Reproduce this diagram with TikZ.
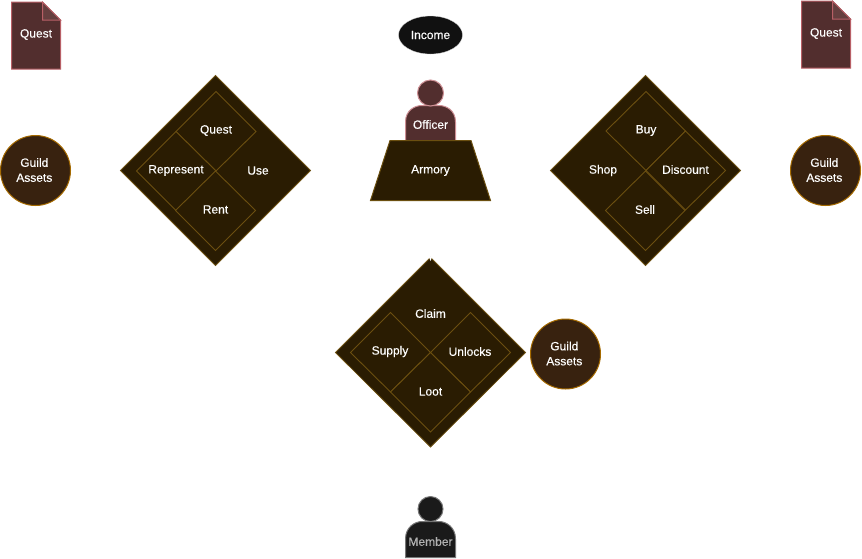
\documentclass[tikz,border=0pt]{standalone}
\usepackage{fontspec}
\setmainfont[FakeBold=0.25]{Liberation Sans}
\usetikzlibrary{shapes.geometric}
\definecolor{dkfill}{HTML}{2A1C02}
\definecolor{dkline}{HTML}{6B4F10}
\definecolor{brfill}{HTML}{38220F}
\definecolor{brline}{HTML}{A56A00}
\definecolor{docfill}{HTML}{522E2E}
\definecolor{docline}{HTML}{B85F66}
\definecolor{docfold}{HTML}{663F3F}
\definecolor{blk}{HTML}{111111}
\definecolor{memfill}{HTML}{1A1A1A}
\definecolor{memline}{HTML}{777777}
\tikzset{
  x=1pt,y=-1pt,
  every node/.style={font=\fontsize{12}{15}\selectfont,text=white,align=center,inner sep=0pt,outer sep=0pt},
  tx/.style={yshift=-0.5pt},
  bigd/.style={draw=dkline,fill=dkfill,line width=0.8pt},
  smalld/.style={draw=dkline,fill=dkfill,line width=0.9pt},
  guild/.style={circle,draw=brline,fill=brfill,line width=1pt,minimum size=70pt},
  docshape/.style={draw=docline,fill=docfill,line width=1pt},
  foldshape/.style={draw=docline,fill=docfold,line width=1pt},
}
\begin{document}
\begin{tikzpicture}
\useasboundingbox (0,0) rectangle (862,558);
% left diamond
\draw[bigd] (215.5,75.5)--(310.5,170.5)--(215.5,265.5)--(120.5,170.5)--cycle;
\draw[smalld] (216,91.5)--(256,131.5)--(216,171)--(176,131.5)--cycle;
\draw[smalld] (176,131.5)--(216,171)--(176,210.5)--(136.5,171)--cycle;
\draw[smalld] (215.5,171)--(255.5,210.5)--(215.5,250.5)--(175.5,210.5)--cycle;
\node[tx] (lq) at (216,130) {Quest};
\node[tx] (lr) at (176,170) {Represent};
\node[tx] (lu) at (258,170) {Use};
\node[tx] (lrent) at (215.5,209) {Rent};
% right diamond
\draw[bigd] (645.5,75.5)--(740.5,170.5)--(645.5,265.5)--(550.5,170.5)--cycle;
\draw[smalld] (646,91.5)--(685.5,131)--(646,170.5)--(606,131)--cycle;
\draw[smalld] (685.5,131)--(725.5,170.5)--(685.5,210)--(646,170.5)--cycle;
\draw[smalld] (645.5,171)--(685,210.5)--(645.5,250.5)--(605.5,210.5)--cycle;
\node[tx] (rb) at (646,130) {Buy};
\node[tx] (rs) at (603,170) {Shop};
\node[tx] (rd) at (685.5,169) {Discount};
\node[tx] (rsell) at (645,209) {Sell};
% bottom diamond
\draw[bigd] (430.5,257.5)--(525.5,352.5)--(430.5,447)--(335.5,352.5)--cycle;
\fill[white] (429,257)--(432,257)--(430.5,261)--cycle;
\draw[smalld] (390.5,312.5)--(430.5,352.5)--(390.5,392)--(350.5,352.5)--cycle;
\draw[smalld] (470.5,312.5)--(510.5,352.5)--(470.5,392)--(430.5,352.5)--cycle;
\draw[smalld] (430.5,352.5)--(470.5,392)--(430.5,432)--(390.5,392)--cycle;
\node[tx] (bc) at (430.5,313) {Claim};
\node[tx] (bs) at (390,351) {Supply};
\node[tx] (bu) at (470,351) {Unlocks};
\node[tx] (bl) at (430.5,391) {Loot};
% circles
\node[guild] (g1) at (35.5,170.5) {};
\node (g1t) at (34.3,170) {Guild\\Assets};
\node[guild] (g2) at (825.5,170.5) {};
\node (g2t) at (824.3,170) {Guild\\Assets};
\node[guild] (g3) at (565.5,354) {};
\node (g3t) at (564.3,353.5) {Guild\\Assets};
% docs
\draw[docshape] (11.5,2)--(42.5,2)--(60.5,20)--(60.5,69)--(11.5,69)--cycle;
\draw[foldshape] (42.5,2)--(60.5,20)--(42.5,20)--cycle;
\node[tx] (q1) at (36,34) {Quest};
\draw[docshape] (801.5,1)--(832.5,1)--(850.5,19)--(850.5,68)--(801.5,68)--cycle;
\draw[foldshape] (832.5,1)--(850.5,19)--(832.5,19)--cycle;
\node[tx] (q2) at (826,33) {Quest};
% income
\node[ellipse,fill=blk,draw=white!85!black,line width=0.3pt,minimum width=64pt,minimum height=38pt] (inc) at (430.5,35) {};
\node[yshift=-0.5pt] (inct) at (430.5,34.5) {Income};
% officer
\draw[draw=docline!70!white,fill=docfill,line width=1pt] (405.5,140.5)--(405.5,122) .. controls (405.5,110) and (415,105.5) .. (422,105.5)--(439,105.5) .. controls (446,105.5) and (455.5,110) .. (455.5,122)--(455.5,140.5)--cycle;
\draw[draw=docline!70!white,fill=docfill,line width=1pt] (430.5,93) circle[radius=13];
% armory
\draw[draw=dkline,fill=dkfill,line width=1pt] (390,140.5)--(471,140.5)--(490.5,200.5)--(370.5,200.5)--cycle;
\node[tx] (off) at (430.5,124) {Officer};
\node[tx] (arm) at (430.5,170) {Armory};
% member
\draw[draw=memline,fill=memfill,line width=1pt] (405.5,557.5)--(405.5,539) .. controls (405.5,527) and (415,521.5) .. (422,521.5)--(439,521.5) .. controls (446,521.5) and (455.5,527) .. (455.5,539)--(455.5,557.5)--cycle;
\draw[draw=memline,fill=memfill,line width=1pt] (430.5,509) circle[radius=12.5];
\node[tx,text=white!70!black] (mem) at (430.5,541) {Member};
\end{tikzpicture}
\end{document}
